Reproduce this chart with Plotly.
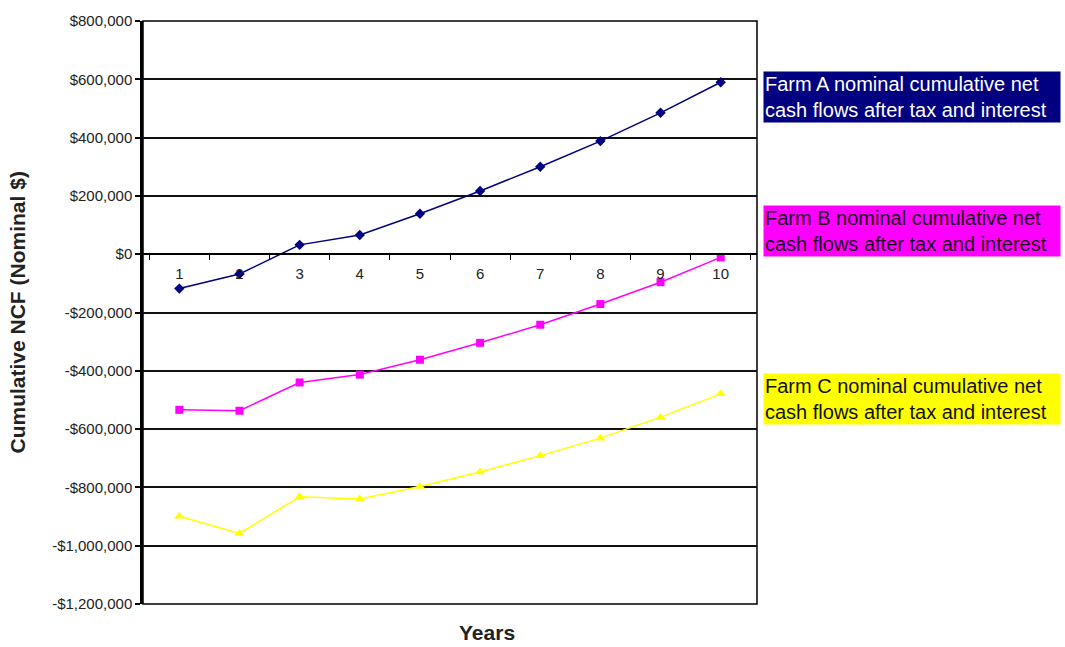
import plotly.graph_objects as go

# Cumulative net cash flows after tax and interest, nominal dollars
years = ["1", "2", "3", "4", "5", "6", "7", "8", "9", "10"]
farm_a = [-118000, -68000, 32000, 66000, 139000, 217000, 300000, 388000, 485000, 590000]
farm_b = [-534000, -537000, -440000, -413000, -362000, -304000, -242000, -171000, -96000, -11000]
farm_c = [-899000, -958000, -832000, -840000, -797000, -747000, -691000, -631000, -559000, -479000]

y_ticks = [800000, 600000, 400000, 200000, 0, -200000, -400000, -600000, -800000, -1000000, -1200000]
y_range = [-1200000, 800000]

series_labels = [
    "Farm A nominal cumulative net<br>cash flows after tax and interest",
    "Farm B nominal cumulative net<br>cash flows after tax and interest",
    "Farm C nominal cumulative net<br>cash flows after tax and interest",
]


def money(v):
    return f"-${abs(v):,}" if v < 0 else f"${v:,}"


FONT = "Liberation Sans, Arial, sans-serif"

fig = go.Figure()
fig.add_trace(go.Scatter(
    x=years, y=farm_a, mode="lines+markers",
    line=dict(color="#000080", width=1.5),
    marker=dict(symbol="diamond", size=8, color="#000080"),
))
fig.add_trace(go.Scatter(
    x=years, y=farm_b, mode="lines+markers",
    line=dict(color="#FF00FF", width=1.5),
    marker=dict(symbol="square", size=8, color="#FF00FF"),
))
fig.add_trace(go.Scatter(
    x=years, y=farm_c, mode="lines+markers",
    line=dict(color="#FFFF00", width=1.5),
    marker=dict(symbol="triangle-up", size=9, color="#FFFF00"),
))

# x axis crosses the value axis at zero
zero_pos = (0 - y_range[0]) / (y_range[1] - y_range[0])

fig.update_layout(
    width=1065, height=647,
    margin=dict(l=143, r=308, t=16, b=43),
    paper_bgcolor="white", plot_bgcolor="white",
    showlegend=False,
    font=dict(family=FONT, color="#222"),
    xaxis=dict(
        type="category", anchor="free", position=zero_pos,
        showline=True, linecolor="black", linewidth=1.5,
        showgrid=False, zeroline=False,
        ticks="outside", tickson="boundaries", ticklen=5,
        tickcolor="black", tickwidth=1,
        ticklabelstandoff=6,
        tickfont=dict(family=FONT, size=15, color="#222"),
    ),
    yaxis=dict(
        range=y_range, tickvals=y_ticks, ticktext=[money(v) for v in y_ticks],
        showline=True, linecolor="black", linewidth=2.5,
        showgrid=True, gridcolor="#111", gridwidth=1.5,
        zeroline=False,
        ticks="outside", ticklen=5, tickcolor="black", tickwidth=1.5,
        tickfont=dict(family=FONT, size=15, color="#222"),
    ),
    shapes=[dict(type="rect", xref="paper", yref="paper", x0=0, x1=1, y0=0, y1=1,
                 line=dict(color="black", width=1.5), layer="below")],
)

# Axis titles
fig.add_annotation(text="<b>Years</b>", xref="paper", yref="paper",
                   x=0.560, y=-0.049, xanchor="center", yanchor="middle",
                   showarrow=False,
                   font=dict(family=FONT, size=21, color="#222"))
fig.add_annotation(text="<b>Cumulative NCF (Nominal $)</b>", xref="paper", yref="paper",
                   x=-0.2036, y=0.5, xanchor="center", yanchor="middle",
                   textangle=-90, showarrow=False,
                   font=dict(family=FONT, size=21, color="#222"))

# Series labels to the right of the plot
label_styles = [
    (540000, "#000080", "white"),
    (78000, "#FF00FF", "#1a001a"),
    (-498000, "#FFFF00", "#111"),
]
for text, (yv, bg, fg) in zip(series_labels, label_styles):
    fig.add_annotation(text=text, xref="paper", yref="y", x=1.0098, y=yv,
                       xanchor="left", yanchor="middle", align="left",
                       showarrow=False, bgcolor=bg, borderpad=1,
                       width=294, height=48,
                       font=dict(family=FONT, size=20, color=fg))

fig.write_html("out.html")
